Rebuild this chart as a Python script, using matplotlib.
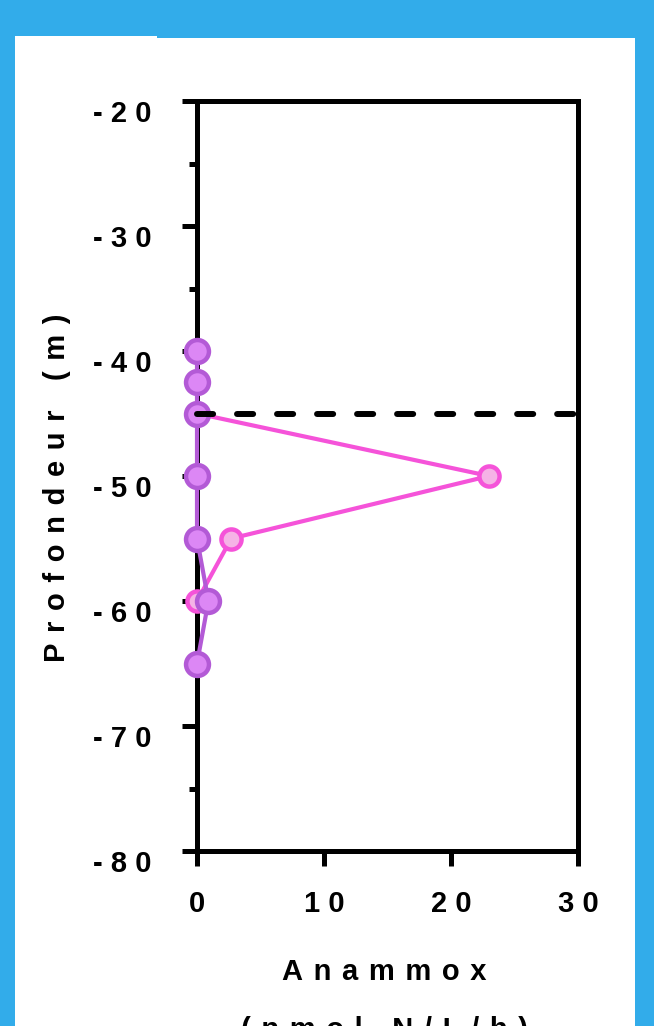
import matplotlib
matplotlib.use("Agg")
import matplotlib.pyplot as plt
from matplotlib.patches import Rectangle
from matplotlib.transforms import ScaledTranslation

plt.rcParams['font.family'] = ['Liberation Sans', 'DejaVu Sans']
plt.rcParams['font.weight'] = 'bold'

# ---- data ----
depth_purple = [-40, -42.5, -45, -50, -55, -60, -65]
rate_purple = [0, 0, 0, 0, 0, 0.9, 0]
depth_pink = [-45, -50, -55, -60]
rate_pink = [0, 23, 2.7, 0]
oxycline_depth = -45
yticks = [-20, -30, -40, -50, -60, -70, -80]
yminor = [-25, -35, -45, -55, -65, -75]
xticks = [0, 10, 20, 30]
xlabel_txt = "Anammox\n(nmol N/L/h)"
ylabel_txt = "Profondeur (m)"

SEP_TICK = "\u2009\u200a"
SEP_LABEL = "\u2009\u200a\u200a"


def spaced(s, sep):
    return "\n".join(sep.join(list(line)) for line in s.split("\n"))


W, H = 654, 1026
fig = plt.figure(figsize=(W / 100, H / 100), dpi=100)
fig.patch.set_facecolor('#32ACEA')
fig.add_artist(Rectangle((15 / W, 0), 620 / W, (H - 38) / H, transform=fig.transFigure,
                         facecolor='white', edgecolor='none', zorder=0))
fig.add_artist(Rectangle((15 / W, (H - 38) / H), 142 / W, 2 / H, transform=fig.transFigure,
                         facecolor='white', edgecolor='none', zorder=0))

ax = fig.add_axes([197 / W, 175 / H, 381 / W, 750 / H])
ax.set_facecolor('none')
ax.set_xlim(0, 30)
ax.set_ylim(-80, -20)

lw_spine = 3.6
for s in ax.spines.values():
    s.set_linewidth(lw_spine)
    s.set_color('black')

PINK_E, PINK_F = '#F553D9', '#F5B3E6'
PURP_E, PURP_F = '#B35AD6', '#DC87F5'

ax.plot(rate_pink, depth_pink, '-o', color=PINK_E, lw=3.0, ms=14.5, mec=PINK_E,
        mfc=PINK_F, mew=3.2, clip_on=False, zorder=3)
ax.plot(rate_purple, depth_purple, '-o', color=PURP_E, lw=3.0, ms=16.5, mec=PURP_E,
        mfc=PURP_F, mew=3.2, clip_on=False, zorder=4)
ax.plot([0, 30], [oxycline_depth, oxycline_depth], color='black', lw=4.3,
        dashes=(2.7, 4.0), dash_capstyle='round', zorder=5, clip_on=False)

ax.set_yticks(yticks)
ax.set_yticks(yminor, minor=True)
ax.set_yticklabels([spaced(str(v), SEP_TICK) for v in yticks])
ax.set_xticks(xticks)
ax.set_xticklabels([spaced(str(v), SEP_TICK) for v in xticks])

ax.tick_params(axis='y', which='major', direction='out', length=10.8, width=lw_spine,
               labelsize=21, pad=22)
ax.tick_params(axis='y', which='minor', direction='out', length=5.8, width=lw_spine)
ax.tick_params(axis='x', which='major', direction='out', length=10.8, width=lw_spine,
               labelsize=21, pad=17)
shift = ScaledTranslation(0, -10 / 100, fig.dpi_scale_trans)
for lab in ax.get_yticklabels():
    lab.set_fontweight('bold')
    lab.set_transform(lab.get_transform() + shift)
for lab in ax.get_xticklabels():
    lab.set_fontweight('bold')

ax.set_xlabel(spaced(xlabel_txt, SEP_LABEL), fontsize=21, fontweight='bold',
              linespacing=2.35, va='top', ha='center')
ax.xaxis.set_label_coords(0.491, -0.1427)
ax.set_ylabel(spaced(ylabel_txt, SEP_LABEL), fontsize=21, fontweight='bold',
              va='center', ha='center')
ax.yaxis.set_label_coords(-0.367, 0.484)

fig.savefig('out.png', dpi=100, facecolor=fig.get_facecolor())
